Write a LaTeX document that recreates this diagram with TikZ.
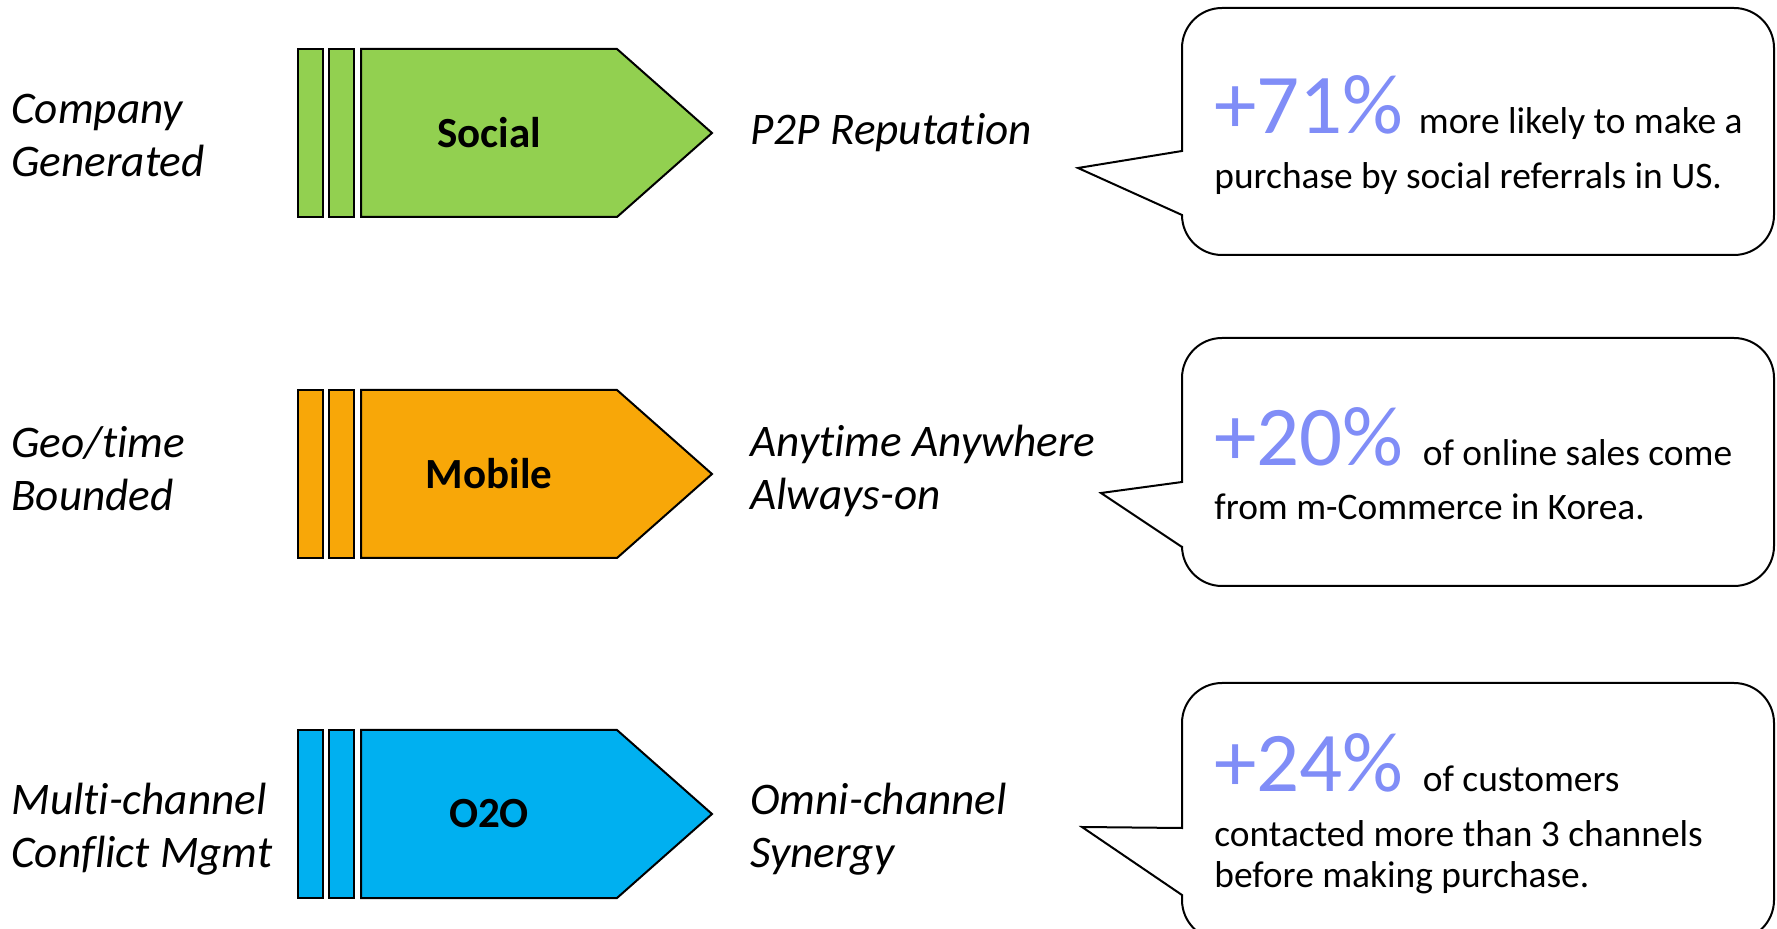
\documentclass[tikz,border=0pt]{standalone}
\usepackage{fontspec}
\setmainfont{Carlito}[Ligatures=NoCommon]
\definecolor{socialgreen}{HTML}{92D050}
\definecolor{mobileorange}{HTML}{F8A708}
\definecolor{otwoblue}{HTML}{00B0F0}
\definecolor{statblue}{RGB}{128,141,247}
\newcommand{\bignum}[1]{{\fontsize{42.5}{50}\selectfont\color{statblue}#1\ }}
\tikzset{
  label text/.style={font=\fontsize{22.6}{26.5}\selectfont\itshape,inner sep=0pt,align=left},
  arrow text/.style={font=\fontsize{21.5}{25}\selectfont\bfseries,inner sep=0pt},
  stat text/.style={font=\fontsize{18.7}{22.2}\selectfont,inner sep=0pt,align=left},
  callout/.style={draw,line width=1pt,fill=white}
}
\begin{document}
\begin{tikzpicture}[x=0.5pt,y=-0.5pt]
  \useasboundingbox (0,0) rectangle (1777,929);
  % channel arrows
  \foreach \yc/\col/\name/\txt in {133/socialgreen/social/Social,474/mobileorange/mobile/Mobile,814/otwoblue/otwo/O2O}{
    \draw[line width=1pt,fill=\col] (298,\yc-84) rectangle (323,\yc+84);
    \draw[line width=1pt,fill=\col] (329,\yc-84) rectangle (354,\yc+84);
    \draw[line width=1pt,fill=\col] (361,\yc-84) -- (617,\yc-84) -- (712,\yc) -- (617,\yc+84) -- (361,\yc+84) -- cycle;
    \node[arrow text] (\name) at (489,\yc) {\txt};
  }
  % left labels (base = last line)
  \node[label text,anchor=base west] (company) at (11,177) {Company\\Generated};
  \node[label text,anchor=base west] (geotime) at (11,511) {Geo/time\\Bounded};
  \node[label text,anchor=base west] (multich) at (11,867) {Multi-channel\\Conflict Mgmt};
  % right labels
  \node[label text,anchor=base west] (reput) at (750,145) {P2P Reputation};
  \node[label text,anchor=base west] (anytime) at (750,510) {Anytime Anywhere\\Always-on};
  \node[label text,anchor=base west] (omni) at (750,867) {Omni-channel\\Synergy};
  % callouts
  \draw[callout] (1182,215) [rounded corners=20pt] -- (1182,255) -- (1774,255) -- (1774,8) -- (1182,8) [sharp corners] -- (1182,151) -- (1078,168) -- cycle;
  \draw[callout] (1182,547) [rounded corners=20pt] -- (1182,586) -- (1774,586) -- (1774,338) -- (1182,338) [sharp corners] -- (1182,482) -- (1101,493) -- cycle;
  \draw[callout] (1182,895) [rounded corners=20pt] -- (1182,940) -- (1774,940) -- (1774,683) -- (1182,683) [sharp corners] -- (1182,828) -- (1082,827) -- cycle;
  \node[stat text,anchor=base west] (stat71) at (1214,189) {\bignum{+71\%}\hspace{-2pt}more likely to make a\\[5.5pt]purchase by social referrals in US.};
  \node[stat text,anchor=base west] (stat20) at (1214,520) {\bignum{+20\%}of online sales come\\[5pt]from m-Commerce in Korea.};
  \node[stat text,anchor=base west] (stat24) at (1214,887) {\bignum{+24\%}of customers\\[5.5pt]contacted more than 3 channels\\[-2pt]before making purchase.};
\end{tikzpicture}
\end{document}
